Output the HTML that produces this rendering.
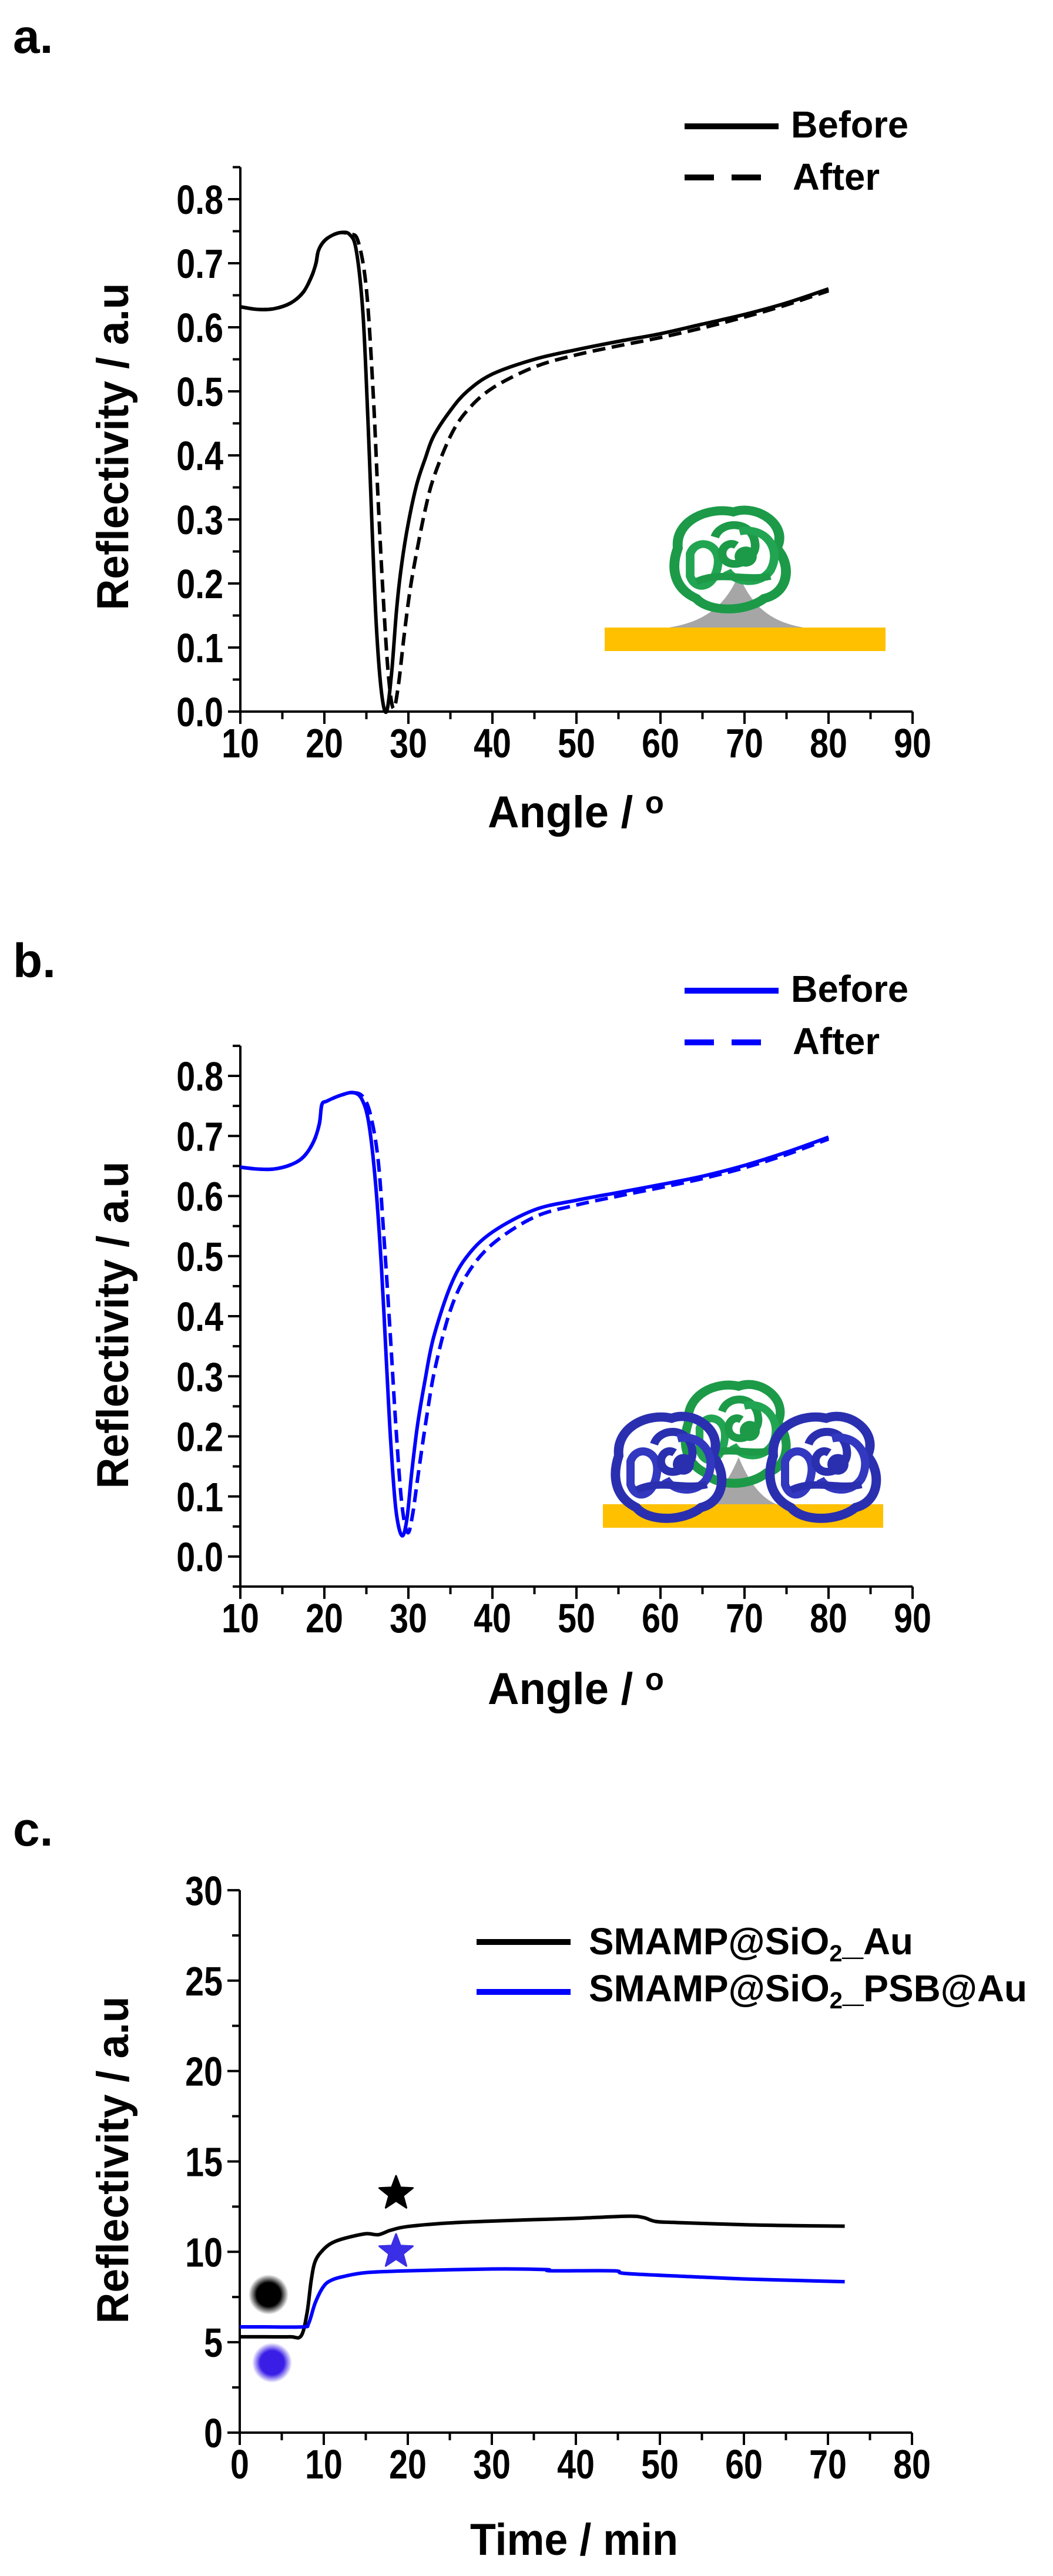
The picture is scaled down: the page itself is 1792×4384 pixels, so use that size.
<!DOCTYPE html>
<html><head><meta charset="utf-8">
<style>
html,body{margin:0;padding:0;background:#fff;}
svg{display:block;}
text{font-family:"Liberation Sans",Arial,sans-serif;font-weight:bold;fill:#000;}
.tl{font-size:70px;}
.lg{font-size:64px;}
.tt{font-size:76px;}
.pl{font-size:82px;}
</style></head>
<body>
<svg id="s" width="1792" height="4384" viewBox="0 0 1792 4384" xmlns="http://www.w3.org/2000/svg">
<defs>
<radialGradient id="gb" cx="50%" cy="50%" r="50%"><stop offset="0.6" stop-color="#000"/><stop offset="1" stop-color="#000" stop-opacity="0"/></radialGradient>
<radialGradient id="gu" cx="50%" cy="50%" r="50%"><stop offset="0.6" stop-color="#3a1ee6"/><stop offset="1" stop-color="#3a1ee6" stop-opacity="0"/></radialGradient>
<g id="blobG">
<path d="M-90,-20 C-95,-70 -40,-95 0,-85 C40,-100 90,-60 70,-20 C95,10 90,60 50,70 C20,95 -40,95 -60,70 C-100,50 -100,10 -90,-20 Z" fill="none" stroke="#1c9a48" stroke-width="16"/>
<path d="M-70,-10 C-60,-40 -20,-30 -25,10 C-30,50 -60,60 -70,30 Z" fill="none" stroke="#22a552" stroke-width="14"/>
<path d="M-30,-40 C-20,-70 30,-70 35,-30 C40,0 0,20 -15,0 C-25,-15 -10,-35 5,-25" fill="none" stroke="#1c9a48" stroke-width="14"/>
<path d="M10,-50 C50,-60 80,-20 60,20 C40,50 0,40 -10,20" fill="none" stroke="#22a552" stroke-width="14"/>
<path d="M-60,40 C-20,20 20,40 60,30" fill="none" stroke="#1c9a48" stroke-width="13"/>
<circle cx="20" cy="-5" r="18" fill="#1c9a48"/>
</g>
<g id="blobB">
<path d="M-90,-20 C-95,-70 -40,-95 0,-85 C40,-100 90,-60 70,-20 C95,10 90,60 50,70 C20,95 -40,95 -60,70 C-100,50 -100,10 -90,-20 Z" fill="none" stroke="#2a2fb0" stroke-width="16"/>
<path d="M-70,-10 C-60,-40 -20,-30 -25,10 C-30,50 -60,60 -70,30 Z" fill="none" stroke="#3338c0" stroke-width="14"/>
<path d="M-30,-40 C-20,-70 30,-70 35,-30 C40,0 0,20 -15,0 C-25,-15 -10,-35 5,-25" fill="none" stroke="#2a2fb0" stroke-width="14"/>
<path d="M10,-50 C50,-60 80,-20 60,20 C40,50 0,40 -10,20" fill="none" stroke="#3338c0" stroke-width="14"/>
<path d="M-60,40 C-20,20 20,40 60,30" fill="none" stroke="#2a2fb0" stroke-width="13"/>
<circle cx="20" cy="-5" r="18" fill="#2a2fb0"/>
</g>
</defs>

<text class="pl" x="22" y="90">a.</text>
<text class="pl" x="22" y="1663">b.</text>
<text class="pl" x="22" y="3141">c.</text>

<path d="M1131,1069 C1200,1060 1235,1030 1257,978 C1279,1030 1310,1060 1374,1069 Z" fill="#a6a6a6"/>
<rect x="1029" y="1068" width="478" height="40" fill="#ffc000"/>
<use href="#blobG" transform="translate(1248,952) scale(1.05,0.95)"/>

<path d="M1190,2561 C1220,2550 1240,2520 1257,2480 C1274,2520 1294,2550 1324,2561 Z" fill="#a6a6a6"/>
<rect x="1026" y="2560" width="477" height="40" fill="#ffc000"/>
<use href="#blobG" transform="translate(1257,2440) scale(0.95,0.95)"/>
<use href="#blobB" transform="translate(1143,2497) scale(1.0,0.98)"/>
<use href="#blobB" transform="translate(1406,2497) scale(1.0,0.98)"/>

<text class="tt" transform="translate(218,760) rotate(-90)" text-anchor="middle" textLength="557" lengthAdjust="spacingAndGlyphs">Reflectivity / a.u</text>
<text class="tt" transform="translate(218,2255) rotate(-90)" text-anchor="middle" textLength="557" lengthAdjust="spacingAndGlyphs">Reflectivity / a.u</text>
<text class="tt" transform="translate(218,3676) rotate(-90)" text-anchor="middle" textLength="557" lengthAdjust="spacingAndGlyphs">Reflectivity / a.u</text>
<text class="tt" x="830" y="1408" textLength="300" lengthAdjust="spacingAndGlyphs">Angle / <tspan font-size="54" dy="-24">o</tspan></text>
<text class="tt" x="830" y="2900" textLength="300" lengthAdjust="spacingAndGlyphs">Angle / <tspan font-size="54" dy="-24">o</tspan></text>
<text class="tt" x="800" y="4348" textLength="354" lengthAdjust="spacingAndGlyphs">Time / min</text>

<line x1="1165" y1="215" x2="1325" y2="215" stroke="#000" stroke-width="10"/>
<line x1="1165" y1="302" x2="1325" y2="302" stroke="#000" stroke-width="10" stroke-dasharray="50,30"/>
<text class="lg" x="1346" y="234" textLength="200" lengthAdjust="spacingAndGlyphs">Before</text>
<text class="lg" x="1349" y="323" textLength="148" lengthAdjust="spacingAndGlyphs">After</text>
<line x1="1165" y1="1686" x2="1325" y2="1686" stroke="#0000ff" stroke-width="10"/>
<line x1="1165" y1="1774" x2="1325" y2="1774" stroke="#0000ff" stroke-width="10" stroke-dasharray="50,30"/>
<text class="lg" x="1346" y="1705" textLength="200" lengthAdjust="spacingAndGlyphs">Before</text>
<text class="lg" x="1349" y="1794" textLength="148" lengthAdjust="spacingAndGlyphs">After</text>
<line x1="811" y1="3305" x2="971" y2="3305" stroke="#000" stroke-width="10"/>
<line x1="811" y1="3390" x2="971" y2="3390" stroke="#0000ff" stroke-width="10"/>
<text class="lg" x="1002" y="3326" font-size="60" textLength="552" lengthAdjust="spacingAndGlyphs">SMAMP@SiO<tspan font-size="40" dy="12">2</tspan><tspan dy="-12">_Au</tspan></text>
<text class="lg" x="1002" y="3406" font-size="60" textLength="746" lengthAdjust="spacingAndGlyphs">SMAMP@SiO<tspan font-size="40" dy="12">2</tspan><tspan dy="-12">_PSB@Au</tspan></text>

<circle cx="457" cy="3905" r="34" fill="url(#gb)"/>
<circle cx="463" cy="4021" r="34" fill="url(#gu)"/>
</svg>
<script>
(function(){
var NS="http://www.w3.org/2000/svg", s=document.getElementById('s');
function el(t,a,p){var e=document.createElementNS(NS,t);for(var k in a)e.setAttribute(k,a[k]);(p||s).appendChild(e);return e;}
function txt(x,y,str,anchor){var e=el('text',{x:0,y:0,'class':'tl','text-anchor':anchor,transform:'translate('+x+','+y+') scale(0.82,1)'});e.textContent=str;}
function star(cx,cy,R,col){var p=[];for(var i=0;i<10;i++){var r=i%2?R*0.42:R;var a=-Math.PI/2+i*Math.PI/5;p.push((cx+r*Math.cos(a)).toFixed(1)+','+(cy+r*Math.sin(a)).toFixed(1));}
 el('polygon',{points:p.join(' '),fill:col,stroke:col,'stroke-width':3,'stroke-linejoin':'round'});}
function smooth(pts){var d='M'+pts[0][0].toFixed(1)+','+pts[0][1].toFixed(1);
 for(var i=0;i<pts.length-1;i++){var p0=pts[i-1]||pts[i],p1=pts[i],p2=pts[i+1],p3=pts[i+2]||p2;
  var c1=[p1[0]+(p2[0]-p0[0])/6,p1[1]+(p2[1]-p0[1])/6],c2=[p2[0]-(p3[0]-p1[0])/6,p2[1]-(p3[1]-p1[1])/6];
  d+=' C'+c1[0].toFixed(1)+','+c1[1].toFixed(1)+' '+c2[0].toFixed(1)+','+c2[1].toFixed(1)+' '+p2[0].toFixed(1)+','+p2[1].toFixed(1);}
 return d;}
function axes(o){
 var X=o.X,Y=o.Y;
 var xl=X(o.xmin),xr=X(o.xmax),yb=Y(o.ymin),yt=Y(o.ymax);
 el('line',{x1:xl,y1:yt,x2:xl,y2:yb+2,stroke:'#000','stroke-width':4});
 el('line',{x1:xl-2,y1:yb,x2:xr,y2:yb,stroke:'#000','stroke-width':4});
 var n=Math.round((o.xmax-o.xmin)/o.xminor);
 for(var i=0;i<=n;i++){var v=o.xmin+i*o.xminor;var maj=Math.abs(((v-o.xmin)/o.xmajor)-Math.round((v-o.xmin)/o.xmajor))<1e-6;
  el('line',{x1:X(v),y1:yb,x2:X(v),y2:yb+(maj?21:13),stroke:'#000','stroke-width':4});
  if(maj)txt(X(v),yb+78,String(v),'middle');}
 var m=Math.round((o.ymax-o.ymin)/o.yminor);
 for(var j=0;j<=m;j++){var w=o.ymin+j*o.yminor;var k=(w-o.ylab0)/o.ymajor;var maj2=Math.abs(k-Math.round(k))<1e-6&&w>=o.ylab0-1e-9;
  el('line',{x1:xl,y1:Y(w),x2:xl-(maj2?21:13),y2:Y(w),stroke:'#000','stroke-width':4});
  if(maj2)txt(xl-29,Y(w)+25,o.fmt(w),'end');}
}
function curve(X,Y,data,col,dash){var pts=data.map(function(p){return [X(p[0]),Y(p[1])];});
 var a={d:smooth(pts),fill:'none',stroke:col,'stroke-width':6,'stroke-linejoin':'round'};if(dash)a['stroke-dasharray']=dash;el('path',a);}
var Xa=function(v){return 409+(v-10)*14.3;}, Ya=function(v){return 1211-v*1090;};
axes({X:Xa,Y:Ya,xmin:10,xmax:90,xmajor:10,xminor:5,ymin:0,ymax:0.85,ymajor:0.1,yminor:0.05,ylab0:0,fmt:function(v){return v.toFixed(1);}});
var aB=[[10,0.632],[12,0.628],[14,0.629],[16,0.638],[17.5,0.655],[18.5,0.68],[19,0.70],[19.3,0.72],[20,0.735],[21,0.744],[22,0.748],[23,0.745],[23.8,0.72],[24.6,0.62],[25.2,0.45],[25.7,0.28],[26.2,0.13],[26.8,0.03],[27.4,0.0],[28,0.06],[28.6,0.16],[29.2,0.23],[30,0.295],[31,0.355],[32,0.395],[33,0.43],[35,0.47],[37,0.50],[40,0.527],[45,0.55],[50,0.565],[55,0.578],[60,0.59],[65,0.605],[70,0.62],[75,0.638],[80,0.66]];
var aA=[[10,0.632],[12,0.628],[14,0.629],[16,0.638],[17.5,0.655],[18.5,0.68],[19,0.70],[19.3,0.72],[20,0.735],[21,0.744],[22,0.748],[23,0.745],[24,0.735],[25,0.66],[25.8,0.50],[26.4,0.33],[27,0.18],[27.6,0.06],[28.2,0.005],[28.8,0.04],[29.5,0.12],[30.2,0.19],[31,0.25],[32,0.315],[33,0.365],[35,0.43],[37,0.47],[40,0.505],[45,0.538],[50,0.557],[55,0.571],[60,0.584],[65,0.599],[70,0.616],[75,0.635],[80,0.657]];
curve(Xa,Ya,aB,'#000',null);
curve(Xa,Ya,aA,'#000','22,11');
var Xb=Xa, Yb=function(v){return 2649-v*1022.5;};
axes({X:Xb,Y:Yb,xmin:10,xmax:90,xmajor:10,xminor:5,ymin:-0.05,ymax:0.85,ymajor:0.1,yminor:0.05,ylab0:0,fmt:function(v){return v.toFixed(1);}});
var bB=[[10,0.648],[12,0.645],[14,0.645],[16,0.652],[17.5,0.665],[18.7,0.69],[19.4,0.72],[19.7,0.752],[20.3,0.758],[22,0.768],[23.5,0.772],[24.5,0.76],[25.3,0.72],[26.1,0.62],[26.8,0.48],[27.4,0.32],[27.9,0.19],[28.5,0.08],[29.2,0.035],[29.8,0.06],[30.4,0.14],[31.1,0.22],[32,0.295],[33,0.365],[35,0.45],[37,0.50],[40,0.54],[45,0.577],[50,0.593],[55,0.606],[60,0.619],[65,0.633],[70,0.651],[75,0.673],[80,0.698]];
var bA=[[10,0.648],[12,0.645],[14,0.645],[16,0.652],[17.5,0.665],[18.7,0.69],[19.4,0.72],[19.7,0.752],[20.3,0.758],[22,0.768],[23.5,0.772],[24.6,0.765],[25.5,0.735],[26.4,0.66],[27.1,0.53],[27.8,0.38],[28.5,0.22],[29.2,0.09],[29.9,0.04],[30.5,0.07],[31.2,0.14],[32.2,0.235],[33.2,0.315],[35,0.41],[37,0.47],[40,0.52],[45,0.565],[50,0.585],[55,0.6],[60,0.614],[65,0.629],[70,0.647],[75,0.669],[80,0.695]];
curve(Xb,Yb,bB,'#0000ff',null);
curve(Xb,Yb,bA,'#0000ff','22,11');
var Xc=function(t){return 408+t*14.3;}, Yc=function(r){return 4140-r*30.77;};
axes({X:Xc,Y:Yc,xmin:0,xmax:80,xmajor:10,xminor:5,ymin:0,ymax:30,ymajor:5,yminor:2.5,ylab0:0,fmt:function(v){return String(v);}});
var cK=[[0,5.3],[3,5.3],[6,5.3],[7.3,5.35],[8,6.6],[8.5,8.4],[9,9.5],[10,10.15],[11,10.5],[12.5,10.75],[15,11.0],[16.5,10.95],[18,11.2],[20,11.4],[25,11.6],[30,11.7],[35,11.78],[40,11.85],[46,11.97],[48,11.9],[49.5,11.68],[52,11.62],[60,11.5],[66,11.45],[72,11.42]];
var cU=[[0,5.85],[3,5.85],[7.5,5.85],[8.2,6.05],[9,7.2],[10,8.1],[11,8.45],[12.5,8.65],[15,8.85],[20,8.95],[30,9.05],[36.5,9.02],[37,8.95],[44.5,8.95],[46,8.8],[55,8.6],[60,8.5],[66,8.42],[72,8.35]];
curve(Xc,Yc,cK,'#000',null);
curve(Xc,Yc,cU,'#0000ff',null);
star(674,3733,30,'#000');
star(674,3832,30,'#3a2ee6');
})();
</script>
</body></html>
